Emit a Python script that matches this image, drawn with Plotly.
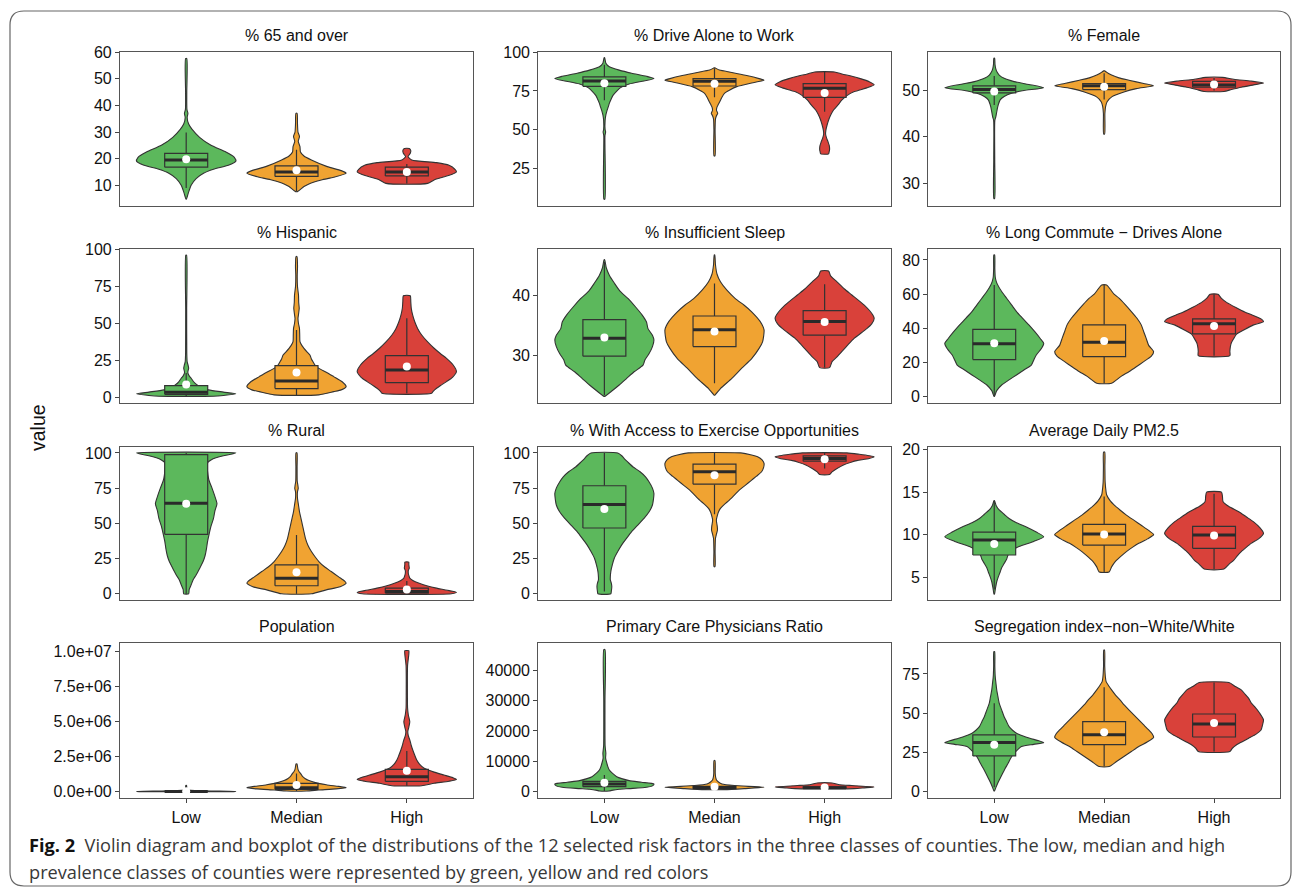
import plotly.graph_objects as go

W, H = 1295, 892
classes = ["Low", "Median", "High"]
fills = ["#5CB85C", "#F0A332", "#D9413A"]

# ---- violin outlines: [value, relative half-width], top to bottom ----
age65_low = [[57.6,0.012],[45,0.012],[38.5,0.015],[37,0.035],[35.5,0.02],[33,0.05],[31,0.12],[28,0.27],[25,0.5],[22.5,0.8],[20.5,0.97],[19,1.0],[17.5,0.85],[16,0.55],[14.5,0.35],[12.5,0.2],[10,0.1],[7.5,0.05],[4.8,0.005]]
age65_med = [[37,0.012],[33,0.02],[30,0.03],[28.3,0.06],[26.5,0.035],[24.5,0.07],[22.5,0.08],[21,0.15],[19.5,0.3],[17,0.62],[15.5,0.9],[14.5,1.0],[13,0.75],[12,0.5],[10.5,0.25],[9.5,0.15],[7.6,0.02]]
age65_high = [[23.8,0.05],[23,0.08],[22,0.07],[20.8,0.025],[19.5,0.1],[18.5,0.6],[17.5,0.85],[16,0.97],[15,1.0],[14,0.9],[13,0.72],[12,0.55],[10.7,0.42]]
age65_box = [[9.0,16.8,19.5,22.0,29.8,19.8],[7.7,13.3,15.0,17.3,23.3,15.6],[10.7,13.5,15.0,16.8,18.0,15.0]]

drive_low = [[96.5,0.005],[93,0.03],[90.7,0.1],[88.5,0.3],[86.5,0.55],[84.5,0.85],[83,1.0],[81.5,0.8],[79.5,0.5],[77,0.32],[74.6,0.24],[72,0.17],[70,0.14],[67,0.1],[64.9,0.08],[62,0.05],[59.5,0.03],[56,0.015],[50,0.015],[48.5,0.025],[46,0.012],[5,0.01]]
drive_med = [[90,0.005],[88.5,0.1],[87,0.35],[85,0.65],[83,0.9],[82,1.0],[80.5,0.8],[77.8,0.45],[75.5,0.3],[73.5,0.2],[71,0.15],[69,0.12],[66.5,0.08],[64.5,0.05],[62.5,0.04],[60.6,0.065],[59,0.04],[57,0.02],[50,0.012],[33,0.01]]
drive_high = [[87.3,0.2],[86,0.35],[84.5,0.55],[83,0.72],[81,0.9],[79,1.0],[77,0.85],[74.6,0.6],[72,0.45],[69.2,0.35],[66,0.27],[62.7,0.18],[60,0.13],[57,0.09],[53,0.05],[49.5,0.025],[47,0.02],[44.5,0.04],[42,0.07],[39.5,0.095],[37,0.1],[35.5,0.09],[34.3,0.08]]
drive_box = [[69,78.0,81.5,84.1,92,80.0],[71,78.2,81.3,83.0,89.7,79.7],[61.6,70.9,76.7,79.7,87.3,73.7]]

female_low = [[56.8,0.008],[55.5,0.015],[54.6,0.03],[53.8,0.06],[53.2,0.1],[52.5,0.2],[51.8,0.4],[51.2,0.7],[50.5,1.0],[49.9,0.6],[49.3,0.35],[48.6,0.2],[47.9,0.12],[46.4,0.07],[45,0.045],[44.2,0.03],[43.5,0.012],[35,0.01],[26.8,0.008]]
female_med = [[54.1,0.01],[53.6,0.08],[53.2,0.15],[52.6,0.3],[52.1,0.5],[51.4,0.8],[50.9,1.0],[50.3,0.65],[49.6,0.4],[48.6,0.16],[47.5,0.06],[46.5,0.03],[45,0.015],[40.6,0.01]]
female_high = [[52.7,0.17],[52.3,0.4],[51.9,0.75],[51.5,1.0],[51.1,0.8],[50.6,0.55],[50.1,0.35],[49.7,0.2]]
female_box = [[46.8,49.4,50.1,50.9,53.0,49.7],[48.0,50.1,50.9,51.4,53.6,50.7],[49.9,50.6,51.1,51.85,52.6,51.2]]

hisp_low = [[96.4,0.008],[60,0.01],[30,0.012],[24,0.02],[21.5,0.04],[19.6,0.05],[17.5,0.035],[16.3,0.035],[14.5,0.06],[12.9,0.1],[10.5,0.15],[8.4,0.22],[6.5,0.32],[5,0.45],[3.5,0.75],[2.3,1.0],[1.2,0.75],[0.7,0.55]]
hisp_med = [[95.3,0.01],[90,0.02],[87.4,0.02],[82.8,0.015],[75,0.02],[69.3,0.04],[64,0.045],[60.3,0.055],[56,0.04],[53.5,0.03],[50,0.04],[46.7,0.06],[42,0.065],[37.7,0.07],[35,0.11],[33.2,0.15],[30.5,0.22],[28.7,0.27],[26,0.3],[24.2,0.33],[21.5,0.38],[19.6,0.45],[17,0.6],[14,0.75],[10.5,0.92],[7.2,1.0],[5,0.9],[3.8,0.75],[1.6,0.45]]
hisp_high = [[68.8,0.07],[65,0.08],[60.3,0.09],[55.5,0.12],[51.2,0.16],[46.5,0.22],[42.2,0.3],[37.5,0.42],[33.2,0.55],[29.5,0.68],[26.4,0.8],[22,0.93],[17.4,1.0],[13.5,0.92],[10.6,0.8],[8,0.68],[6.1,0.6],[4,0.53],[2.7,0.5]]
hisp_box = [[0.7,2.0,3.4,7.9,16.5,8.6],[1.6,5.9,11.1,21.4,45.6,16.7],[2.7,9.9,18.5,28.2,53.5,20.8]]

sleep_low = [[45.9,0.005],[44.5,0.04],[43.3,0.1],[42,0.2],[40.6,0.32],[39.4,0.48],[38,0.63],[36.7,0.76],[35.5,0.85],[34.4,0.88],[33.3,0.97],[32.5,1.0],[31.4,0.97],[30.2,0.9],[29.2,0.82],[28.3,0.78],[27.2,0.6],[26.1,0.45],[25,0.3],[24,0.15],[23.1,0.005]]
sleep_med = [[46.7,0.005],[45,0.02],[43.5,0.05],[42.2,0.12],[40.8,0.25],[39.4,0.42],[38.3,0.6],[37.2,0.75],[35.6,0.92],[34.2,1.0],[32.2,0.97],[31.1,0.9],[29.4,0.75],[27.8,0.55],[26.1,0.35],[24.4,0.12],[23.3,0.005]]
sleep_high = [[44.0,0.08],[43.2,0.12],[42.2,0.25],[41,0.4],[40,0.55],[38.3,0.8],[36.7,0.97],[36.1,1.0],[35.2,0.95],[34.4,0.85],[32.8,0.6],[31.7,0.47],[30.6,0.35],[29.7,0.25],[28.9,0.15],[27.9,0.1]]
sleep_box = [[23.3,29.8,32.8,35.9,45.5,32.9],[25.3,31.4,34.2,36.5,41.9,33.9],[27.9,33.3,35.6,37.4,41.8,35.5]]

comm_low = [[82.9,0.008],[75,0.012],[70,0.02],[67.5,0.04],[65.4,0.07],[61.5,0.15],[57.6,0.25],[53.7,0.35],[49.8,0.45],[46,0.57],[42,0.7],[38,0.82],[34,0.93],[31.2,1.0],[28,0.95],[24.4,0.85],[21.5,0.8],[18.5,0.75],[15.6,0.6],[12.7,0.45],[9.8,0.3],[6.8,0.15],[3.5,0.05],[0.2,0.005]]
comm_med = [[65.4,0.05],[63,0.12],[60,0.2],[57.6,0.3],[53.7,0.43],[49.8,0.55],[46,0.66],[42,0.75],[38,0.8],[34.1,0.85],[30,0.9],[26.3,1.0],[23.5,0.95],[20.5,0.8],[17.5,0.65],[14.6,0.5],[12,0.35],[9.8,0.25],[7.8,0.15]]
comm_high = [[59.9,0.08],[57.5,0.15],[55,0.26],[52,0.45],[49.5,0.62],[47.8,0.77],[45.5,0.95],[43.9,1.0],[42,0.8],[39,0.6],[36.5,0.45],[34.1,0.4],[31.5,0.35],[29.3,0.33],[26.5,0.32],[24,0.32]]
comm_box = [[0.2,21.7,31.0,39.4,65.4,31.2],[7.8,23.4,31.8,42.0,65.4,32.6],[24.0,36.7,42.7,45.5,59.9,41.4]]

rural_low = [[100,1.0],[99,0.9],[98,0.75],[96.5,0.6],[95,0.5],[93.5,0.44],[91,0.42],[87,0.43],[82,0.45],[79.5,0.47],[75,0.52],[70,0.57],[64,0.62],[59,0.58],[53.5,0.55],[48,0.5],[42,0.46],[37,0.43],[32.3,0.41],[27,0.38],[22.9,0.34],[18,0.27],[13.4,0.2],[10,0.14],[6.4,0.1],[3,0.06],[0,0.05]]
rural_med = [[100,0.01],[90,0.012],[80,0.015],[76.5,0.03],[74.8,0.035],[72.5,0.02],[67.7,0.02],[63,0.04],[58.3,0.06],[53.5,0.09],[48.8,0.12],[44,0.15],[39.4,0.18],[34.5,0.23],[30,0.3],[26.5,0.37],[22.9,0.45],[19,0.57],[15.8,0.7],[12,0.85],[9,0.97],[7.5,1.0],[5,0.88],[2.8,0.6],[0,0.3]]
rural_high = [[22.5,0.04],[21,0.04],[19.5,0.045],[18.2,0.05],[16.5,0.03],[14.6,0.03],[12.5,0.045],[11.1,0.06],[9.5,0.12],[7.5,0.25],[5.5,0.42],[4,0.6],[2.5,0.82],[1,1.0],[0,0.9]]
rural_box = [[0,42.2,64.2,98.8,100,63.9],[0,5.7,11.1,20.5,41.7,15.3],[0,0.5,1.7,4.0,9.0,3.1]]

exer_low = [[100,0.27],[98,0.35],[96,0.4],[93.6,0.47],[90,0.58],[86.6,0.72],[83,0.83],[79.5,0.9],[75,0.97],[71.2,1.0],[67,0.99],[63,0.97],[58,0.9],[53.5,0.8],[49,0.68],[44.1,0.55],[39.5,0.45],[34.7,0.35],[30,0.27],[25.2,0.2],[20.5,0.16],[15.8,0.13],[12,0.12],[9.9,0.12],[7.5,0.14],[5,0.15],[1.7,0.14],[0,0.13]]
exer_med = [[100,0.53],[98.5,0.75],[97.2,0.87],[95,0.96],[92.5,1.0],[89.5,0.99],[86.6,0.95],[83.5,0.85],[80.7,0.75],[77,0.62],[73.6,0.5],[70,0.4],[66.5,0.3],[63.5,0.2],[60.6,0.12],[58,0.08],[55.9,0.06],[53,0.04],[51.2,0.04],[48,0.055],[45.3,0.06],[42.5,0.04],[39.4,0.02],[30,0.012],[19.3,0.01]]
exer_high = [[100,0.45],[99,0.7],[98,0.9],[97.2,1.0],[96,0.9],[94.5,0.65],[93.6,0.55],[91.5,0.38],[88.9,0.25],[86.5,0.15],[84.7,0.1]]
exer_box = [[1.7,46.7,63.4,76.7,100,60.1],[56.5,77.8,86.6,92.0,100,84.2],[88.9,94.1,96.0,97.9,100,95.5]]

pm_low = [[14.0,0.005],[13.4,0.04],[12.9,0.1],[12.4,0.2],[11.9,0.3],[11.4,0.45],[10.9,0.65],[10.3,0.85],[9.75,1.0],[9.2,0.8],[8.6,0.5],[8.1,0.35],[7.6,0.28],[7.1,0.25],[6.6,0.2],[6.1,0.15],[5.6,0.12],[5,0.08],[4.45,0.05],[3.7,0.025],[3.0,0.005]]
pm_med = [[19.7,0.012],[18,0.015],[16.2,0.02],[15,0.04],[14.7,0.05],[14,0.12],[13.5,0.2],[12.9,0.32],[12.3,0.45],[11.7,0.6],[11.1,0.75],[10.5,0.9],[10,1.0],[9.5,0.88],[8.97,0.7],[8.5,0.57],[8,0.45],[7.4,0.33],[6.8,0.22],[6.2,0.15],[5.6,0.1]]
pm_high = [[15.0,0.15],[14.5,0.17],[13.9,0.18],[13.3,0.3],[12.7,0.5],[12.1,0.65],[11.5,0.8],[10.8,0.93],[10.15,1.0],[9.5,0.9],[8.97,0.75],[8.5,0.65],[8,0.55],[7.5,0.47],[7,0.4],[6.5,0.3],[5.94,0.2]]
pm_box = [[3.55,7.6,9.35,10.3,14.0,8.9],[5.6,8.77,10.07,11.2,14.5,10.0],[5.94,8.38,9.95,10.97,14.8,9.9]]

pop_low = [[4.5e5,0.008],[2e5,0.015],[1.2e5,0.05],[8e4,0.2],[5e4,0.5],[3e4,0.85],[1.5e4,1.0],[5e3,0.95],[1e3,0.8]]
pop_med = [[1.98e6,0.01],[1.8e6,0.02],[1.6e6,0.03],[1.45e6,0.05],[1.31e6,0.08],[1.1e6,0.12],[0.95e6,0.17],[0.8e6,0.25],[0.65e6,0.38],[0.5e6,0.6],[0.38e6,0.85],[0.29e6,1.0],[0.2e6,0.8],[0.12e6,0.45],[0.05e6,0.2]]
pop_high = [[10.07e6,0.04],[9.8e6,0.04],[9e6,0.015],[7e6,0.012],[6e6,0.015],[5.5e6,0.03],[5e6,0.06],[4.6e6,0.04],[4.3e6,0.02],[4e6,0.03],[3.7e6,0.06],[3.3e6,0.09],[2.98e6,0.12],[2.6e6,0.16],[2.26e6,0.2],[1.95e6,0.26],[1.67e6,0.35],[1.4e6,0.55],[1.19e6,0.75],[1.0e6,0.93],[0.88e6,1.0],[0.75e6,0.85],[0.6e6,0.55],[0.43e6,0.3]]
pop_box = [[1e3,1.0e4,2.2e4,4.5e4,1.0e5,3.5e4],[0.05e6,0.17e6,0.29e6,0.6e6,1.3e6,0.48e6],[0.43e6,0.74e6,1.07e6,1.6e6,2.9e6,1.5e6]]

pcp_low = [[47000,0.012],[30000,0.012],[15000,0.015],[12600,0.03],[11000,0.025],[9300,0.05],[8200,0.07],[7070,0.1],[6000,0.16],[4860,0.25],[4200,0.35],[3540,0.5],[3000,0.75],[2430,1.0],[1800,0.97],[1330,0.85],[900,0.5],[660,0.3],[300,0.15],[110,0.1]]
pcp_med = [[10200,0.01],[6000,0.015],[4500,0.025],[3760,0.04],[3100,0.08],[2430,0.15],[1900,0.4],[1330,1.0],[900,0.6],[550,0.2]]
pcp_high = [[2760,0.15],[2500,0.22],[2200,0.3],[1900,0.55],[1440,1.0],[1150,0.8],[880,0.6]]
pcp_box = [[110,1550,2430,3300,5400,2870],[550,880,1220,1660,2650,1550],[880,950,1150,1500,2300,1300]]

seg_low = [[89.3,0.008],[80,0.012],[73.3,0.02],[69,0.035],[64.8,0.05],[60.5,0.075],[56.3,0.1],[52,0.15],[47.7,0.2],[44.5,0.25],[41.3,0.3],[39,0.37],[37.1,0.45],[35.5,0.57],[33.9,0.72],[32.3,0.9],[31.1,1.0],[30,0.8],[28.6,0.55],[26.5,0.47],[24.3,0.4],[21,0.33],[17.9,0.28],[14.5,0.22],[11.5,0.17],[8.3,0.12],[5.1,0.07],[2.5,0.035],[0.2,0.005]]
seg_med = [[90.3,0.008],[80,0.012],[73,0.025],[70.1,0.04],[67.5,0.09],[64.8,0.15],[61.5,0.23],[58.4,0.32],[55,0.41],[52,0.5],[48.8,0.6],[45.6,0.7],[42.4,0.8],[39.2,0.9],[36.8,0.97],[34.5,1.0],[31.5,0.87],[28.6,0.7],[25.4,0.55],[22.2,0.4],[19,0.25],[15.8,0.1]]
seg_high = [[69.5,0.3],[67,0.43],[64.8,0.55],[62,0.63],[59.4,0.7],[56.5,0.75],[54.1,0.82],[50,0.92],[45.6,1.0],[42.4,0.98],[39.2,0.95],[36.5,0.85],[33.9,0.7],[31.7,0.57],[29.6,0.45],[27.5,0.37],[25.4,0.32]]
seg_box = [[2.5,22.6,31.1,36.0,56.3,29.8],[15.8,29.8,36.2,44.5,66.5,37.7],[25.4,34.7,43.0,49.4,69.5,43.7]]

# ---- tick values / labels ----
pop_ticks = [0, 2.5e6, 5e6, 7.5e6, 1e7]
pop_ticktext = ["0.0e+00", "2.5e+06", "5.0e+06", "7.5e+06", "1.0e+07"]
pcp_ticks = [0, 10000, 20000, 30000, 40000]
pcp_ticktext = ["0", "10000", "20000", "30000", "40000"]

panels = [
    ("% 65 and over", [age65_low, age65_med, age65_high], age65_box, [10,20,30,40,50,60], None, [2.2, 60.2]),
    ("% Drive Alone to Work", [drive_low, drive_med, drive_high], drive_box, [25,50,75,100], None, [0.6, 100.4]),
    ("% Female", [female_low, female_med, female_high], female_box, [30,40,50], None, [25.2, 58.2]),
    ("% Hispanic", [hisp_low, hisp_med, hisp_high], hisp_box, [0,25,50,75,100], None, [-4.1, 100.5]),
    ("% Insufficient Sleep", [sleep_low, sleep_med, sleep_high], sleep_box, [30,40], None, [21.95, 47.67]),
    ("% Long Commute \u2212 Drives Alone", [comm_low, comm_med, comm_high], comm_box, [0,20,40,60,80], None, [-3.9, 86.4]),
    ("% Rural", [rural_low, rural_med, rural_high], rural_box, [0,25,50,75,100], None, [-4.4, 104.4]),
    ("% With Access to Exercise Opportunities", [exer_low, exer_med, exer_high], exer_box, [0,25,50,75,100], None, [-4.4, 104.4]),
    ("Average Daily PM2.5", [pm_low, pm_med, pm_high], pm_box, [5,10,15,20], None, [2.3, 20.35]),
    ("Population", [pop_low, pop_med, pop_high], pop_box, pop_ticks, pop_ticktext, [-4.7e5, 1.06e7]),
    ("Primary Care Physicians Ratio", [pcp_low, pcp_med, pcp_high], pcp_box, pcp_ticks, pcp_ticktext, [-2320, 49080]),
    ("Segregation index\u2212non\u2212White/White", [seg_low, seg_med, seg_high], seg_box, [0,25,50,75], None, [-4.5, 94.6]),
]

col_px = [(120, 473), (538.3, 890.7), (928.3, 1280)]
row_px = [(51.7, 206), (249, 403.3), (446.7, 600), (643.3, 798.3)]
HALF = 0.45
BOXW = 0.39
FONT = "Liberation Sans, Arial, sans-serif"
INK = "#333333"

fig = go.Figure()
layout = {}
annotations = []

def add(tr):
    fig.add_trace(tr)

for i, (title, violins, boxes, tv, tt, yr) in enumerate(panels):
    r, c = divmod(i, 3)
    k = i + 1
    xs = "x" if k == 1 else f"x{k}"
    ys = "y" if k == 1 else f"y{k}"
    x0, x1 = col_px[c]
    y0, y1 = row_px[r]
    for j, prof in enumerate(violins):
        cx = j + 1
        vals = [p[0] for p in prof]
        wid = [p[1] for p in prof]
        px = [cx - HALF * w for w in wid] + [cx + HALF * w for w in reversed(wid)]
        py = vals + list(reversed(vals))
        px.append(px[0]); py.append(py[0])
        add(go.Scatter(x=px, y=py, xaxis=xs, yaxis=ys, mode="lines",
                       fill="toself", fillcolor=fills[j],
                       line=dict(color=INK, width=1.1, shape="spline", smoothing=0.6),
                       hoverinfo="skip", showlegend=False))
    for j, b in enumerate(boxes):
        cx = j + 1
        lo, q1, med, q3, hi, mean = b
        bl, br = cx - BOXW / 2, cx + BOXW / 2
        add(go.Scatter(x=[cx, cx, None, cx, cx], y=[q3, hi, None, q1, lo], xaxis=xs, yaxis=ys,
                       mode="lines", line=dict(color=INK, width=1.2),
                       hoverinfo="skip", showlegend=False))
        add(go.Scatter(x=[bl, br, br, bl, bl], y=[q1, q1, q3, q3, q1], xaxis=xs, yaxis=ys,
                       mode="lines", fill="toself", fillcolor=fills[j],
                       line=dict(color=INK, width=1.2),
                       hoverinfo="skip", showlegend=False))
        add(go.Scatter(x=[bl, br], y=[med, med], xaxis=xs, yaxis=ys,
                       mode="lines", line=dict(color="#2a2a2a", width=3),
                       hoverinfo="skip", showlegend=False))
        add(go.Scatter(x=[cx], y=[mean], xaxis=xs, yaxis=ys, mode="markers",
                       marker=dict(color="white", size=8, line=dict(width=0)),
                       hoverinfo="skip", showlegend=False))
    bottom = (r == 3)
    xa = dict(domain=[x0 / W, x1 / W], range=[0.4, 3.6], anchor=ys, showgrid=False, zeroline=False,
              showline=True, mirror=True, linecolor="#555555", linewidth=1.2,
              tickvals=[1, 2, 3], ticktext=classes, showticklabels=bottom,
              ticks="outside" if bottom else "", ticklen=4, tickcolor="#444444",
              tickfont=dict(family=FONT, size=16, color="#111111"), fixedrange=True)
    ya = dict(domain=[1 - y1 / H, 1 - y0 / H], range=yr, anchor=xs, showgrid=False, zeroline=False,
              showline=True, mirror=True, linecolor="#555555", linewidth=1.2,
              tickvals=tv, ticks="outside", ticklen=4, tickcolor="#444444",
              tickfont=dict(family=FONT, size=16, color="#111111"), fixedrange=True)
    if tt is not None:
        ya["ticktext"] = tt
    layout["xaxis" if k == 1 else f"xaxis{k}"] = xa
    layout["yaxis" if k == 1 else f"yaxis{k}"] = ya
    annotations.append(dict(text=title, x=(x0 + x1) / 2 / W, y=1 - (y0 - 16.5) / H, xref="paper", yref="paper",
                            xanchor="center", yanchor="middle", showarrow=False,
                            font=dict(family=FONT, size=16, color="#111111")))

annotations.append(dict(text="value", x=38 / W, y=1 - 428 / H, xref="paper", yref="paper", textangle=-90,
                        xanchor="center", yanchor="middle", showarrow=False,
                        font=dict(family=FONT, size=19.5, color="#111111")))
cap1 = ("<span style='color:#111111'><b>Fig. 2</b></span>\u00a0\u00a0Violin diagram and boxplot of the distributions "
        "of the 12 selected risk factors in the three classes of counties. The low, median and high")
cap2 = "prevalence classes of counties were represented by green, yellow and red colors"
for txt, yy in [(cap1, 845), (cap2, 872)]:
    annotations.append(dict(text=txt, x=27 / W, y=1 - yy / H, xref="paper", yref="paper",
                            xanchor="left", yanchor="middle", showarrow=False,
                            font=dict(family="Open Sans, sans-serif", size=18.2, color="#383838")))

def P(x, y):
    return f"{x / W:.5f},{1 - y / H:.5f}"

bx0, by0, bx1, by1, rr = 10, 11, 1291, 886, 14
path = (f"M {P(bx0 + rr, by0)} L {P(bx1 - rr, by0)} Q {P(bx1, by0)} {P(bx1, by0 + rr)} "
        f"L {P(bx1, by1 - rr)} Q {P(bx1, by1)} {P(bx1 - rr, by1)} L {P(bx0 + rr, by1)} "
        f"Q {P(bx0, by1)} {P(bx0, by1 - rr)} L {P(bx0, by0 + rr)} Q {P(bx0, by0)} {P(bx0 + rr, by0)} Z")

fig.update_layout(width=W, height=H, margin=dict(l=0, r=0, t=0, b=0, pad=0, autoexpand=False),
                  paper_bgcolor="white", plot_bgcolor="white", showlegend=False,
                  annotations=annotations,
                  shapes=[dict(type="path", path=path, xref="paper", yref="paper",
                               line=dict(color="#666666", width=1.2))],
                  **layout)

fig.write_html("out.html", config={"displayModeBar": False},
               post_script="document.body.style.margin='0';document.body.style.overflow='hidden';")
